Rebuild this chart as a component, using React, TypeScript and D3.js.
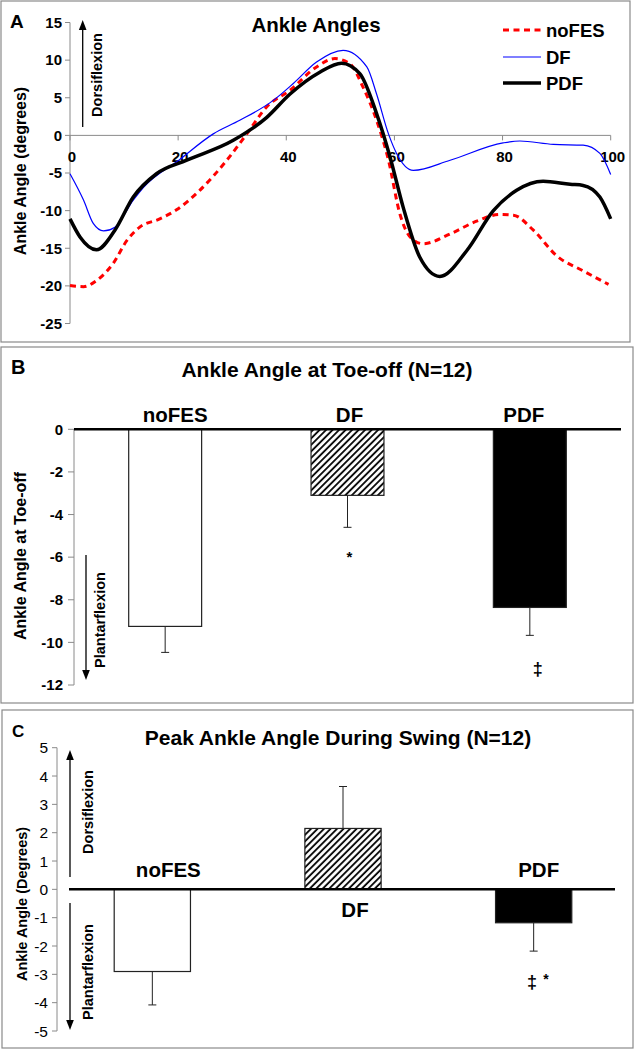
import React from "react";
import * as d3 from "d3";

// ---------- Data ----------
const seriesNames = ["noFES", "DF", "PDF"];
const xTicksA = [0, 20, 40, 60, 80, 100];
const yTicksA = [15, 10, 5, 0, -5, -10, -15, -20, -25];

// Ankle angle (degrees) vs % gait cycle
const noFESCurve: [number, number][] = [
  [0, -19.95], [2.5, -20.1], [4.9, -19.3], [8, -17], [10.5, -14], [12.9, -12.2], [16.6, -11.1],
  [19.7, -9.9], [24, -7.3], [29, -3.3], [32.7, 0.2], [36.4, 3.8], [40.7, 6], [45.6, 9.1],
  [49, 10.2], [51.8, 9.5], [54.2, 6.4], [56.7, 2], [58.9, -3.3], [61, -10.4], [62.9, -13.5],
  [65.3, -14.4], [70.3, -13.1], [75.2, -11.4], [79.5, -10.5], [82, -10.6], [85.7, -12.6],
  [90, -16], [94.9, -18], [99.6, -19.8],
];
const dfCurve: [number, number][] = [
  [0, -5.1], [2.5, -8.6], [4.3, -11.7], [6.2, -12.7], [8.3, -12.2], [11.7, -8.6], [13.6, -6.9],
  [20.3, -3.2], [26.5, 0.2], [31.4, 2.0], [37.6, 4.65], [41.3, 6.9], [45.6, 9.75], [50.5, 11.3],
  [54.9, 9.1], [56.7, 5.5], [58.9, 0.2], [60.4, -2.4], [63.5, -4.65], [70.3, -3.3], [80.1, -1.0],
  [83.2, -0.75], [89.4, -1.2], [94.9, -1.3], [98, -2.4], [100, -5.2],
];
const pdfCurve: [number, number][] = [
  [0, -11.1], [1.85, -13.5], [4.9, -15.2], [8.3, -12.6], [11.7, -8.2], [16, -5.1], [21.6, -3.3],
  [30.2, -0.66], [36.4, 2.4], [40.7, 5.5], [46.2, 8.4], [50.2, 9.6], [53.6, 8.2], [56.7, 2.9],
  [59.2, -2.9], [61.6, -9.5], [64.7, -16.2], [68.4, -18.75], [73.4, -15.3], [78.3, -10],
  [82.6, -7.3], [87.5, -6.1], [92.5, -6.5], [94.9, -6.65], [98, -8.2], [100, -11.1],
];

const yTicksB = [0, -2, -4, -6, -8, -10, -12];
const toeOffMean = [-9.25, -3.1, -8.36];
const toeOffSE = [1.22, 1.5, 1.31];
const toeOffSig = ["", "*", "‡"];

const yTicksC = [5, 4, 3, 2, 1, 0, -1, -2, -3, -4, -5];
const swingMean = [-2.9, 2.15, -1.18];
const swingSE = [1.18, 1.48, 1.0];

// ---------- Styles ----------
const FONT = "'Liberation Sans', Arial, Helvetica, sans-serif";
const AXIS = "#8a8a8a";
const FRAME = "#8a8a8a";
const fills = ["#ffffff", "url(#hatch)", "#000000"];

function Arrow({ x, y1, y2 }: { x: number; y1: number; y2: number }) {
  const dir = y2 < y1 ? -1 : 1;
  const head = 10;
  return (
    <g>
      <line x1={x} x2={x} y1={y1} y2={y2 - dir * head} stroke="#000" strokeWidth={1.3} />
      <path d={`M${x - 3.8},${y2 - dir * head} L${x + 3.8},${y2 - dir * head} L${x},${y2} Z`} fill="#000" />
    </g>
  );
}

function VText({ x, y, size, children, weight = "bold" }: any) {
  return (
    <text
      transform={`translate(${x},${y}) rotate(-90)`}
      textAnchor="middle"
      dominantBaseline="central"
      fontSize={size}
      fontWeight={weight}
      fontFamily={FONT}
    >
      {children}
    </text>
  );
}

function PanelA() {
  const x = d3.scaleLinear().domain([0, 100]).range([70, 610.7]);
  const y = d3.scaleLinear().domain([-25, 15]).range([323.5, 22.5]);
  const line = d3
    .line<[number, number]>()
    .x((d) => x(d[0]))
    .y((d) => y(d[1]))
    .curve(d3.curveMonotoneX);
  const legend = [
    { name: seriesNames[0], color: "#ff0000", w: 3, dash: "6,4.5", yy: 30 },
    { name: seriesNames[1], color: "#0000ff", w: 1.2, dash: null, yy: 57 },
    { name: seriesNames[2], color: "#000000", w: 3.5, dash: null, yy: 83 },
  ];
  return (
    <g>
      <rect x={1} y={1} width={629} height={341} fill="#fff" stroke={FRAME} strokeWidth={1.2} />
      <text x={10} y={28} fontSize={19} fontWeight="bold" fontFamily={FONT}>A</text>
      <text x={316} y={31.5} textAnchor="middle" fontSize={20.5} fontWeight="bold" fontFamily={FONT}>
        Ankle Angles
      </text>
      <line x1={x(0)} x2={x(0)} y1={y(15)} y2={y(-25)} stroke={AXIS} strokeWidth={1} />
      {yTicksA.map((t) => (
        <g key={t}>
          <line x1={x(0) - 5} x2={x(0)} y1={y(t)} y2={y(t)} stroke={AXIS} />
          <text x={x(0) - 8} y={y(t)} dy="0.35em" textAnchor="end" fontSize={15} fontWeight="bold" fontFamily={FONT}>
            {t}
          </text>
        </g>
      ))}
      <line x1={x(0)} x2={x(100)} y1={y(0)} y2={y(0)} stroke={AXIS} strokeWidth={1} />
      {xTicksA.map((t) => (
        <g key={t}>
          <line x1={x(t)} x2={x(t)} y1={y(0)} y2={y(0) + 5} stroke={AXIS} />
          <text x={x(t) + 2} y={y(0) + 27} textAnchor="middle" fontSize={15} fontWeight="bold" fontFamily={FONT}>
            {t}
          </text>
        </g>
      ))}
      <VText x={20} y={171} size={16}>Ankle Angle (degrees)</VText>
      <Arrow x={82.7} y1={127} y2={20} />
      <VText x={97} y={75} size={14.5}>Dorsiflexion</VText>
      <path d={line(noFESCurve) || ""} fill="none" stroke="#ff0000" strokeWidth={3} strokeDasharray="6,4.5" />
      <path d={line(dfCurve) || ""} fill="none" stroke="#0000ff" strokeWidth={1.2} />
      <path d={line(pdfCurve) || ""} fill="none" stroke="#000" strokeWidth={3.5} />
      {legend.map((l) => (
        <g key={l.name}>
          <line x1={503} x2={541} y1={l.yy} y2={l.yy} stroke={l.color} strokeWidth={l.w} strokeDasharray={l.dash || undefined} />
          <text x={546} y={l.yy} dy="0.36em" fontSize={18.5} fontWeight="bold" fontFamily={FONT}>{l.name}</text>
        </g>
      ))}
    </g>
  );
}

function PanelB() {
  const x = d3.scaleBand<string>().domain(seriesNames).range([74, 621]).paddingInner(0.6).paddingOuter(0.3);
  const y = d3.scaleLinear().domain([-12, 0]).range([685, 429.3]);
  const labelDx = [10, 2, -6];
  const sigDx = [0, 2, 8];
  return (
    <g>
      <rect x={1} y={347} width={632} height={356} fill="#fff" stroke={FRAME} strokeWidth={1.2} />
      <text x={11} y={374} fontSize={20} fontWeight="bold" fontFamily={FONT}>B</text>
      <text x={327} y={377} textAnchor="middle" fontSize={21} fontWeight="bold" fontFamily={FONT}>
        Ankle Angle at Toe-off (N=12)
      </text>
      <line x1={74} x2={74} y1={y(0)} y2={y(-12)} stroke={AXIS} />
      {yTicksB.map((t) => (
        <g key={t}>
          <line x1={68} x2={74} y1={y(t)} y2={y(t)} stroke={AXIS} />
          <text x={63} y={y(t)} dy="0.35em" textAnchor="end" fontSize={15} fontWeight="bold" fontFamily={FONT}>{t}</text>
        </g>
      ))}
      <VText x={20} y={556} size={16}>Ankle Angle at Toe-off</VText>
      <Arrow x={86} y1={555} y2={680} />
      <VText x={100} y={620} size={14.5}>Plantarflexion</VText>
      {seriesNames.map((s, i) => {
        const x0 = x(s)!;
        const bw = x.bandwidth();
        const cx = x0 + bw / 2;
        const v = toeOffMean[i];
        const e = v - toeOffSE[i];
        return (
          <g key={s}>
            <line x1={cx} x2={cx} y1={y(v)} y2={y(e)} stroke="#222" strokeWidth={1} />
            <line x1={cx - 4} x2={cx + 4} y1={y(e)} y2={y(e)} stroke="#222" strokeWidth={1} />
            <rect x={x0} y={y(0)} width={bw} height={y(v) - y(0)} fill={fills[i]} stroke="#222" strokeWidth={1.2} />
            <text x={cx + labelDx[i]} y={421.5} textAnchor="middle" fontSize={20.5} fontWeight="bold" fontFamily={FONT}>{s}</text>
            {toeOffSig[i] && (
              <text x={cx + sigDx[i]} y={i === 1 ? 562 : 675} textAnchor="middle" fontSize={i === 1 ? 15 : 18} fontWeight="bold" fontFamily={FONT}>
                {toeOffSig[i]}
              </text>
            )}
          </g>
        );
      })}
      <line x1={74} x2={621} y1={y(0)} y2={y(0)} stroke="#000" strokeWidth={2.5} />
    </g>
  );
}

function PanelC() {
  const x = d3.scaleBand<string>().domain(seriesNames).range([57, 629]).paddingInner(0.6).paddingOuter(0.3);
  const y = d3.scaleLinear().domain([-5, 5]).range([1031, 747.7]);
  const labelDx = [16, 12, 5];
  return (
    <g>
      <rect x={2} y={710} width={631} height={338} fill="#fff" stroke={FRAME} strokeWidth={1.2} />
      <text x={12} y={737} fontSize={17} fontWeight="bold" fontFamily={FONT}>C</text>
      <text x={338} y={745} textAnchor="middle" fontSize={21} fontWeight="bold" fontFamily={FONT}>
        Peak Ankle Angle During Swing (N=12)
      </text>
      <line x1={57} x2={57} y1={y(5)} y2={y(-5)} stroke={AXIS} />
      {yTicksC.map((t) => (
        <g key={t}>
          <line x1={52} x2={57} y1={y(t)} y2={y(t)} stroke={AXIS} />
          <text x={48} y={y(t)} dy="0.36em" textAnchor="end" fontSize={15.5} fontFamily={FONT}>{t}</text>
        </g>
      ))}
      <VText x={22} y={904} size={14.5}>Ankle Angle (Degrees)</VText>
      <Arrow x={70} y1={877} y2={750} />
      <Arrow x={70} y1={903} y2={1030} />
      <VText x={88} y={812} size={14.5}>Dorsiflexion</VText>
      <VText x={88} y={972} size={14.5}>Plantarflexion</VText>
      {seriesNames.map((s, i) => {
        const x0 = x(s)!;
        const bw = x.bandwidth();
        const cx = x0 + bw / 2;
        const v = swingMean[i];
        const e = v + Math.sign(v) * swingSE[i];
        const top = Math.min(y(v), y(0));
        const h = Math.abs(y(v) - y(0));
        const labelY = v < 0 ? 877 : 917;
        return (
          <g key={s}>
            <line x1={cx} x2={cx} y1={y(v)} y2={y(e)} stroke="#222" strokeWidth={1} />
            <line x1={cx - 4} x2={cx + 4} y1={y(e)} y2={y(e)} stroke="#222" strokeWidth={1} />
            <rect x={x0} y={top} width={bw} height={h} fill={fills[i]} stroke="#222" strokeWidth={1.2} />
            <text x={cx + labelDx[i]} y={labelY} textAnchor="middle" fontSize={20.5} fontWeight="bold" fontFamily={FONT}>{s}</text>
          </g>
        );
      })}
      <text x={532} y={988} textAnchor="middle" fontSize={18} fontWeight="bold" fontFamily={FONT}>‡</text>
      <text x={546} y={984} textAnchor="middle" fontSize={14} fontWeight="bold" fontFamily={FONT}>*</text>
      <line x1={69} x2={615} y1={y(0)} y2={y(0)} stroke="#000" strokeWidth={2.5} />
    </g>
  );
}

export default function App() {
  return (
    <svg
      width={635}
      height={1050}
      style={{ position: "absolute", left: 0, top: 0, background: "#fff" }}
      xmlns="http://www.w3.org/2000/svg"
    >
      <defs>
        <pattern id="hatch" patternUnits="userSpaceOnUse" width={4.6} height={4.6} patternTransform="rotate(45)">
          <rect width={4.6} height={4.6} fill="#fff" />
          <line x1={1} x2={1} y1={0} y2={4.6} stroke="#000" strokeWidth={1.8} />
        </pattern>
      </defs>
      <rect width={635} height={1050} fill="#fff" />
      <PanelA />
      <PanelB />
      <PanelC />
    </svg>
  );
}
